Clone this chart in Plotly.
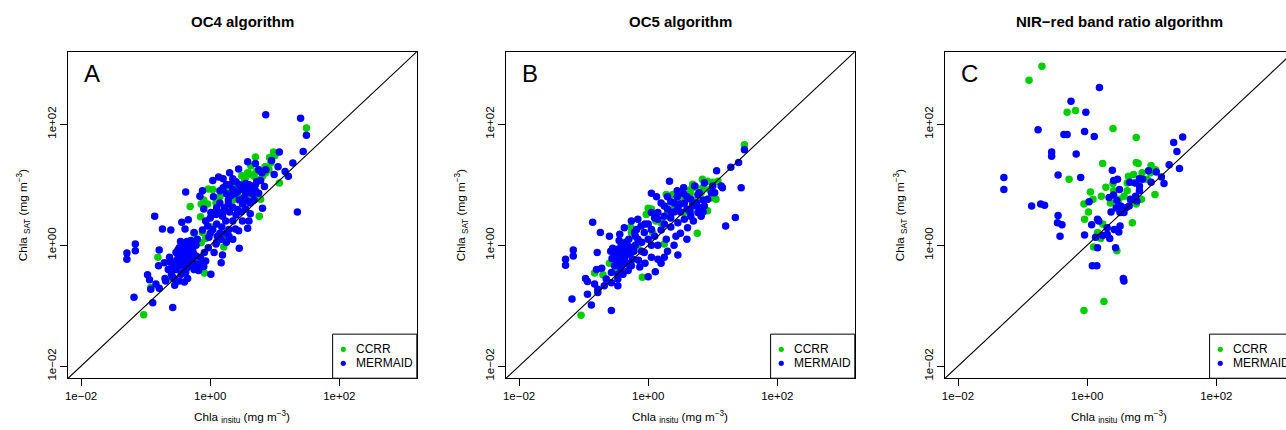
import numpy as np
import plotly.graph_objects as go

# ---------------- data: log10 Chla (mg m^-3), pairs (in situ, satellite) ----------------
oc4_ccrr = [(-1.03,-1.15),(-0.81,-0.20),(-0.92,-0.70),(-0.52,-0.34),(-0.31,0.64),(-0.15,0.47),(-0.09,-0.46),
            (-0.12,0.21),(-0.14,0.04),(-0.07,0.11),(-0.14,0.68),(-0.04,0.68),(0.24,0.59),(0.06,0.54),(0.76,0.48),
            (0.26,0.15),(0.21,-0.03),(0.78,0.76),(0.70,1.46),(0.94,1.36),(0.98,1.54),(0.91,1.25),(0.86,1.20),
            (0.81,1.14),(1.49,1.94),(1.07,1.03),(0.63,1.31),(0.58,1.20),(0.49,1.15),(0.53,1.06),(0.68,1.14),
            (0.78,1.09),(-0.03,0.93),(0.04,0.92),(0.27,0.92),(0.09,0.70),(0.60,0.76),(0.73,0.78),(0.45,0.80),
            (0.35,0.75),(0.15,0.80),(-0.45,-0.05),(-0.25,0.20),(0.02,0.30),(1.00,1.48),(0.40,0.97),(-0.20,-0.30),
            (-0.60,-0.55),(0.92,1.45),(0.55,1.12),(0.72,1.22),(0.62,1.18),(0.30,0.88),(-0.10,0.75),(0.85,1.30)]
oc4_mermaid = [(0.86,2.16),(1.40,2.10),(1.49,1.82),(1.44,1.55),(1.28,1.36),(1.16,1.22),(1.21,1.14),(1.35,0.55),
               (1.07,1.54),(0.99,1.17),(0.86,1.25),(0.78,1.07),(0.84,0.97),(0.81,0.61),(0.60,0.40),(0.75,0.86),
               (0.63,0.87),(0.58,0.73),(0.51,0.97),(0.50,0.68),(0.45,0.75),(0.42,0.59),(0.35,0.63),(0.49,0.92),
               (0.58,1.38),(0.44,1.26),(0.13,1.13),(0.04,1.07),(-0.12,0.90),(-0.16,0.81),(-0.38,0.88),
               (-0.86,0.48),(-0.74,0.27),(-0.61,0.25),(-0.44,0.38),(-0.34,0.42),(-0.39,0.27),(-0.25,0.21),
               (-1.16,0.02),(-1.16,-0.09),(-1.29,-0.13),(-1.29,-0.23),(-0.79,-0.08),(-0.63,-0.20),(-0.71,-0.29),
               (-0.80,-0.34),(-0.65,-0.40),(-0.97,-0.49),(-0.94,-0.57),(-0.84,-0.64),(-0.92,-0.73),(-0.79,-0.71),
               (-0.69,-0.59),(-0.58,-0.53),(-0.45,-0.48),(-0.48,-0.59),(-0.38,-0.45),(-0.30,-0.34),(-0.20,-0.31),
               (-1.18,-0.86),(-0.89,-0.95),(-0.58,-1.03),(-0.07,0.40),(0.01,0.54),(0.11,0.15),(-0.07,-0.26),
               (-0.55,-0.66),(-0.55,-0.56),(-0.40,-0.61),(-0.43,-0.45),(-0.37,-0.39),(-0.32,-0.34),(-0.40,-0.34),
               (-0.48,-0.34),(-0.53,-0.40),(-0.45,-0.25),(-0.53,-0.12),(-0.48,-0.04),(-0.43,0.00),(-0.38,0.02),
               (-0.32,-0.04),(-0.27,-0.09),(-0.32,-0.17),(-0.48,-0.17),(-0.53,-0.26),(-0.40,-0.20),(-0.27,-0.29),
               (-0.22,-0.18),(-0.35,-0.55),(-0.25,-0.40),(-0.42,-0.10),(-0.35,-0.08),(-0.46,0.06),(-0.30,0.08),
               (-0.22,0.00),(-0.15,-0.20),(-0.10,-0.35),(-0.18,-0.42),(-0.60,-0.48),(-0.70,-0.55),
               (0.09,0.51),(0.19,0.48),(0.24,0.40),(0.29,0.26),(0.39,0.27),(0.44,0.24),(0.29,0.15),(0.35,0.10),
               (0.45,-0.05),(0.17,0.10),(0.09,0.02),(0.06,-0.12),(0.19,-0.16),(0.17,-0.29),(0.01,-0.48),
               (-0.13,-0.31),(-0.09,-0.12),(-0.03,-0.04),(-0.02,0.13),(0.04,0.26),(-0.04,0.32),
               (0.00,0.45),(0.12,0.55),(0.15,0.70),(0.22,0.62),(0.28,0.75),(0.32,0.82),(0.38,0.85),(0.25,0.85),
               (0.20,0.95),(0.30,1.00),(0.40,1.05),(0.45,1.00),(0.55,0.85),(0.60,1.00),(0.65,0.95),(0.70,0.90),
               (0.68,0.75),(0.55,0.60),(0.48,0.55),(0.40,0.50),(0.30,0.55),(0.18,0.30),(0.10,0.35),(0.50,0.40),
               (0.62,0.52),(0.72,1.05),(0.80,1.20),(0.75,1.25),(0.95,1.40),(1.05,1.30),(0.70,1.35),(0.30,1.20),
               (0.20,1.10),(0.05,0.80),(-0.10,0.60),(0.58,0.28),(0.15,0.20),(0.25,0.05),(-0.12,0.25),(-0.20,0.10),
               (-0.50,-0.22),(-0.44,-0.30),(-0.36,-0.27),(-0.30,-0.22),(-0.26,-0.14),(-0.38,-0.12),(-0.50,-0.08),
               (-0.44,-0.15),(-0.36,0.06),(-0.28,0.02),(-0.58,-0.36),(-0.62,-0.28),(0.35,0.92),(0.42,0.88),
               (0.52,0.78),(0.62,0.70),(0.66,0.85),(0.55,1.02),(0.35,1.10),(0.25,1.00),(0.15,0.90),(0.10,0.62),
               (0.28,0.68),(0.60,0.92),(0.70,1.00),(0.20,0.55),(0.00,0.20),(0.10,0.05),(0.25,0.20),(0.35,0.40)]

oc5_ccrr = [(1.49,1.66),(-1.04,-1.16),(-0.83,-0.46),(-0.09,-0.53),(0.25,0.02),(0.76,0.20),(0.92,0.57),(1.05,0.76),
            (0.97,0.78),(0.84,1.09),(0.92,1.06),(1.00,1.04),(1.08,1.06),(0.69,1.01),(0.66,0.92),(0.28,0.84),
            (0.38,0.84),(0.51,0.81),(0.61,0.78),(0.77,0.77),(0.92,0.76),(0.00,0.61),(0.05,0.60),(-0.03,0.51),
            (-0.27,0.30),(-0.16,-0.01),(-0.49,-0.42),(-0.70,-0.49),(-0.26,0.21),(0.07,0.21),(0.20,0.37),
            (0.56,0.54),(0.41,0.62),(0.30,0.54),(0.82,0.87),(0.95,0.92),(0.74,0.96),(-0.36,0.05),(-0.60,-0.30),
            (0.12,0.40),(0.55,0.95),(0.85,0.95),(0.45,0.72),(0.65,0.85)]
oc5_mermaid = [(1.49,1.58),(1.40,1.37),(1.28,1.29),(1.06,1.23),(1.44,0.95),(1.15,0.95),(1.35,0.46),(1.20,0.32),
               (0.33,1.06),(0.05,0.86),(0.13,0.80),(0.46,-0.16),(0.15,-0.23),(0.00,-0.52),(0.11,-0.44),
               (-0.13,-0.36),(-0.86,0.38),(-0.74,0.21),(-0.60,0.15),(-0.37,0.29),(-0.44,0.18),(-1.16,-0.08),
               (-1.16,-0.18),(-1.28,-0.23),(-1.28,-0.33),(-0.79,-0.12),(-0.80,-0.40),(-0.72,-0.38),(-0.97,-0.55),
               (-0.94,-0.60),(-0.83,-0.64),(-0.94,-0.81),(-1.18,-0.89),(-0.88,-0.99),(-0.57,-1.08),(-0.78,-0.78),
               (-0.68,-0.67),(-0.57,-0.62),(-0.47,-0.56),(-0.39,-0.48),
               (0.72,0.98),(0.79,0.87),(0.92,0.76),(0.87,0.65),(0.77,0.54),(0.66,0.48),(0.56,0.43),(0.46,0.37),
               (0.61,0.29),(0.43,0.15),(0.28,0.10),(0.25,-0.20),(-0.06,-0.12),(0.05,-0.20),(-0.24,-0.23),
               (-0.31,-0.12),(-0.39,-0.23),(-0.47,-0.18),(-0.49,-0.07),(-0.42,-0.01),(-0.34,0.05),(-0.26,-0.04),
               (-0.16,0.10),(-0.06,0.21),(0.05,0.26),(0.15,0.43),(0.25,0.48),(0.36,0.54),(0.46,0.62),(0.56,0.70),
               (0.66,0.76),(1.03,0.87),(1.13,0.98),(1.00,0.98),(0.25,0.65),(0.15,0.54),(0.05,0.54),(-0.16,0.43),
               (-0.11,0.32),(-0.21,0.21),(-0.26,0.40),(-0.18,0.26),
               (-0.52,-0.34),(-0.42,-0.40),(-0.31,-0.42),(-0.47,-0.48),(-0.57,-0.45),(-0.65,-0.56),(-0.47,-0.67),
               (-0.26,-0.34),(-0.78,-0.73),(-0.56,-0.22),(-0.49,-0.26),(-0.41,-0.33),(-0.58,-0.10),(-0.44,-0.12),
               (-0.36,-0.20),(-0.30,-0.02),(-0.20,0.00),(-0.10,0.05),(0.00,0.10),(0.10,0.15),(-0.05,0.35),
               (0.05,0.00),(0.35,0.30),(0.50,0.55),(0.40,0.70),(0.30,0.80),(0.20,0.70),(0.60,0.60),(0.70,0.65),
               (0.85,0.75),(0.55,0.85),(0.45,0.90),(0.35,0.45),(0.20,0.25),(0.70,0.40),(0.85,0.55),(0.30,-0.10),
               (0.40,0.00),(0.60,0.10),(0.50,0.20),(0.15,0.00),(-0.05,-0.30),(0.20,-0.30),(0.98,0.87),(0.87,1.03),
               (0.77,0.84),(0.69,0.68),(0.79,0.62),(0.82,0.48),
               (-0.45,-0.30),(-0.38,-0.28),(-0.32,-0.30),(-0.36,-0.10),(-0.28,-0.15),(-0.22,-0.10),(-0.40,0.00),
               (-0.30,0.10),(-0.52,-0.15),(-0.55,-0.05),(-0.45,0.08),(-0.20,0.15),(-0.10,-0.10),(-0.15,-0.25),
               (0.30,0.60),(0.40,0.55),(0.50,0.68),(0.60,0.80),(0.75,0.70),(0.65,0.55),(0.35,0.72),(0.45,0.80),
               (0.55,0.95),(0.10,0.45),(0.00,0.35),(0.25,0.35)]

nir_ccrr = [(-0.90,2.73),(-0.70,2.96),(-0.31,2.20),(-0.18,2.23),(0.40,1.93),(0.76,1.78),(0.24,1.35),(0.76,1.37),
            (0.79,1.35),(0.99,1.32),(-0.28,1.09),(0.05,0.88),(0.09,0.76),(0.22,0.81),(0.29,0.96),(0.40,1.02),
            (-0.05,0.68),(0.02,0.55),(-0.04,0.43),(0.24,0.35),(0.16,0.21),(0.21,0.11),(0.10,-0.03),(0.46,-0.09),
            (0.70,0.37),(0.26,-0.93),(-0.05,-1.08),(1.05,0.84),(0.84,0.76),(0.76,0.68),(0.62,0.90),(0.57,0.81),
            (0.49,0.76),(0.49,0.59),(0.64,1.14),(0.72,1.17),(0.85,1.20),(0.93,1.09),(0.98,1.20),(1.06,1.25),
            (0.62,1.03),(0.41,0.90),(0.36,0.70)]
nir_mermaid = [(0.19,2.61),(-0.25,2.38),(-0.02,2.20),(-0.76,1.91),(-0.04,1.88),(0.11,1.80),(-0.36,1.83),(-0.31,1.83),
               (-0.55,1.54),(-0.55,1.47),(-0.17,1.51),(1.34,1.70),(1.48,1.79),(1.39,1.55),(1.43,1.27),(1.27,1.33),
               (-1.29,1.12),(-1.29,0.92),(-0.45,1.16),(-0.10,1.12),(-0.86,0.65),(-0.72,0.68),(-0.66,0.66),
               (-0.45,0.49),(-0.46,0.37),(-0.39,0.34),(-0.42,0.15),(-0.04,0.17),(0.03,0.72),(0.07,0.34),(0.16,0.43),
               (0.13,0.13),(0.16,-0.04),(0.08,-0.34),(0.15,-0.34),(0.56,-0.55),(0.57,-0.59),(0.44,-0.04),(0.39,1.24),
               (0.41,1.07),(0.47,1.09),(0.34,0.79),(0.41,0.83),(0.50,0.92),(0.46,0.74),(0.37,0.55),(0.45,0.62),
               (0.51,0.54),(0.57,0.54),(0.60,0.62),(0.66,1.04),(0.74,1.03),(0.81,0.98),(0.86,1.09),(0.81,0.90),
               (0.75,0.81),(0.67,0.76),(0.65,0.65),(0.77,0.73),(0.95,1.23),(1.07,1.21),(1.15,1.13),(1.19,1.02),
               (0.99,1.04),(0.81,1.10),(0.31,0.18),(0.24,0.16),(0.31,0.29),(0.42,0.26),(0.49,0.22),(0.51,0.32),
               (0.35,0.11),(0.52,0.65),(0.18,0.40)]

panel_titles = ["OC4 algorithm", "OC5 algorithm", "NIR\u2212red band ratio algorithm"]
panel_letters = ["A", "B", "C"]
series_names = ["CCRR", "MERMAID"]
series_colors = ["#00CD00", "#0000FF"]
tick_vals = [0.01, 1, 100]
tick_text = ["1e\u221202", "1e+00", "1e+02"]
panels = [(oc4_ccrr, oc4_mermaid), (oc5_ccrr, oc5_mermaid), (nir_ccrr, nir_mermaid)]

# ---------------- layout geometry (pixels) ----------------
W, H = 1286, 430
def px(x): return x / W
def py(y): return 1 - y / H

panel_left = [65.3, 504.3, 944.3]
panel_w = 349.5
plot_top, plot_bot = 52.0, 380.0
log_lo, log_hi = -2.2, 3.2
font_fam = "Liberation Sans, Arial, sans-serif"

fig = go.Figure()
shapes, annotations = [], []
layout_axes = {}

for i, ((ccrr, merm), title, letter) in enumerate(zip(panels, panel_titles, panel_letters)):
    k = "" if i == 0 else str(i + 1)
    xa, ya = "x" + k, "y" + k
    left = panel_left[i]
    right = min(left + panel_w, W)
    xr_hi = log_lo + (log_hi - log_lo) * (right - left) / panel_w

    for pts, name, col in zip((ccrr, merm), series_names, series_colors):
        arr = np.array(pts)
        fig.add_trace(go.Scatter(
            x=10 ** arr[:, 0], y=10 ** arr[:, 1], mode="markers", name=name,
            marker=dict(color=col, size=7.5, line=dict(width=0)),
            xaxis=xa, yaxis=ya, showlegend=False))
    # 1:1 line
    fig.add_trace(go.Scatter(x=[1e-4, 1e5], y=[1e-4, 1e5], mode="lines",
                             line=dict(color="black", width=1.1), xaxis=xa, yaxis=ya,
                             showlegend=False, hoverinfo="skip"))

    common = dict(type="log", showgrid=False, zeroline=False, showline=True,
                  linecolor="black", linewidth=1, ticks="outside", ticklen=7,
                  tickwidth=1, tickcolor="black", tickmode="array",
                  tickvals=tick_vals, ticktext=tick_text,
                  tickfont=dict(family=font_fam, size=11.5, color="black"))
    layout_axes["xaxis" + k] = dict(common, domain=[px(left), px(right)],
                                    range=[log_lo, xr_hi], anchor=ya, mirror=True)
    layout_axes["yaxis" + k] = dict(common, domain=[py(plot_bot), py(plot_top)],
                                    range=[log_lo, log_hi], anchor=xa,
                                    mirror=(i < 2), tickangle=-90)

    cx = left + panel_w / 2
    annotations.append(dict(text=title, x=px(cx), y=py(22), xref="paper", yref="paper",
                            showarrow=False, xanchor="center", yanchor="middle",
                            font=dict(family=font_fam, size=15, color="black", weight="bold")))
    annotations.append(dict(text=letter, x=px(left + 24), y=py(74), xref="paper", yref="paper",
                            showarrow=False, xanchor="center", yanchor="middle",
                            font=dict(family=font_fam, size=24, color="black")))
    annotations.append(dict(text="Chla <sub>insitu</sub> (mg m<sup>\u22123</sup>)", x=px(cx), y=py(419),
                            xref="paper", yref="paper", showarrow=False,
                            xanchor="center", yanchor="middle",
                            font=dict(family=font_fam, size=11.7, color="black")))
    annotations.append(dict(text="Chla <sub>SAT</sub> (mg m<sup>\u22123</sup>)", x=px(left - 45),
                            y=py((plot_top + plot_bot) / 2), xref="paper", yref="paper",
                            showarrow=False, textangle=-90, xanchor="center", yanchor="middle",
                            font=dict(family=font_fam, size=11.7, color="black")))

    # legend box (bottom-right inside plot)
    lg_r = left + panel_w
    lg_l = lg_r - 84.4
    lg_t = 335.7
    shapes.append(dict(type="rect", xref="paper", yref="paper", x0=px(lg_l), x1=px(lg_r),
                       y0=py(plot_bot), y1=py(lg_t), line=dict(color="black", width=1),
                       fillcolor="white", layer="above"))
    for j, (name, col) in enumerate(zip(series_names, series_colors)):
        yy = 351.0 + 14.0 * j
        shapes.append(dict(type="circle", xref="paper", yref="paper", xsizemode="pixel",
                           ysizemode="pixel", xanchor=px(lg_l + 10.7), yanchor=py(yy),
                           x0=-2.6, x1=2.6, y0=-2.6, y1=2.6, fillcolor=col,
                           line=dict(width=0), layer="above"))
        annotations.append(dict(text=name, x=px(lg_l + 21.0), y=py(yy), xref="paper", yref="paper",
                                showarrow=False, xanchor="left", yanchor="middle",
                                font=dict(family=font_fam, size=12, color="black")))

fig.update_layout(
    width=W, height=H, autosize=False,
    margin=dict(l=0, r=0, t=0, b=0, pad=0),
    paper_bgcolor="white", plot_bgcolor="white",
    showlegend=False, shapes=shapes, annotations=annotations,
    **layout_axes)

fig.write_html("out.html", config={"displayModeBar": False})
